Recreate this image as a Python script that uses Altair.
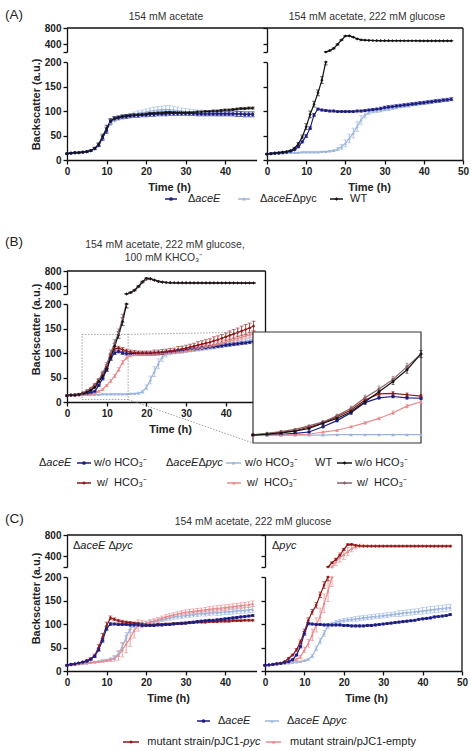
import altair as alt
import pandas as pd

W, H = 471, 751
FONT = "Liberation Sans"
INK = "#222222"
HOURS = list(range(48))

NAVY, SKY, BLACK = "#1d1d82", "#9db5dc", "#141414"
CRIMSON, ROSE, MAUVE = "#8f1616", "#e88a8c", "#8b5f66"

# series key -> (colour, marker)
STYLE = {
    "dAceE": (NAVY, "circle"),
    "dAceE_dPyc": (SKY, "triangle-up"),
    "WT": (BLACK, "diamond"),
    "dAceE_HCO3": (CRIMSON, "diamond"),
    "dAceE_dPyc_HCO3": (ROSE, "triangle-up"),
    "WT_HCO3": (MAUVE, "diamond"),
    "pJC1_pyc": (CRIMSON, "diamond"),
    "pJC1_empty": (ROSE, "triangle-up"),
}
COLOR = alt.Scale(domain=list(STYLE), range=[c for c, _ in STYLE.values()])
SHAPE = alt.Scale(domain=list(STYLE), range=[s for _, s in STYLE.values()])

# ---------------- (A) 154 mM acetate ----------------
a1_wt = [13, 14, 15, 15, 16, 17, 19, 24, 32, 48, 64, 80,
         85, 87, 89, 90, 91, 92, 93, 93, 94, 95, 95, 96,
         96, 97, 97, 97, 97, 97, 97, 97, 97, 98, 98, 99,
         99, 100, 100, 101, 102, 102, 103, 104, 105, 105, 106, 106]
a1_wt_sd = [1, 1, 1, 1, 1, 1, 1, 2, 3, 5, 7, 5,
            3, 2, 2, 2, 2, 2, 2, 2, 2, 2, 2, 2,
            2, 2, 2, 2, 2, 2, 2, 2, 2, 2, 2, 2,
            2, 2, 2, 2, 2, 2, 2, 2, 2, 2, 2, 2]
a1_ae = [13, 14, 15, 15, 16, 17, 19, 23, 30, 45, 60, 78,
         84, 86, 88, 89, 90, 91, 91, 92, 92, 93, 93, 94,
         94, 94, 95, 95, 95, 95, 95, 95, 95, 94, 94, 94,
         94, 94, 94, 94, 94, 94, 94, 94, 94, 93, 93, 93]
a1_ae_sd = [1, 1, 1, 1, 1, 1, 1, 2, 3, 5, 6, 5,
            4, 4, 4, 4, 4, 4, 4, 4, 4, 4, 4, 4,
            4, 4, 4, 4, 4, 4, 4, 4, 4, 4, 4, 4,
            4, 4, 4, 4, 4, 4, 4, 5, 5, 5, 5, 5]
a1_ap = [13, 14, 14, 15, 16, 17, 19, 23, 31, 47, 62, 76,
         83, 86, 88, 89, 91, 93, 95, 97, 98, 100, 101, 102,
         103, 103, 103, 102, 101, 100, 99, 98, 98, 97, 97, 96,
         96, 96, 95, 95, 95, 95, 95, 94, 94, 94, 94, 94]
a1_ap_sd = [1, 1, 1, 1, 1, 1, 1, 2, 3, 5, 6, 6,
            5, 4, 4, 4, 4, 5, 5, 5, 6, 6, 7, 7,
            7, 8, 8, 7, 7, 6, 6, 6, 5, 5, 5, 5,
            5, 5, 5, 5, 5, 5, 5, 5, 5, 5, 5, 5]

# ---------------- (A) 154 mM acetate, 222 mM glucose ----------------
a2_wt = [12, 13, 14, 15, 16, 17, 19, 24, 33, 47, 68, 93,
         114, 137, 163, 200, 235, 290, 390, 500, 600, 605, 570, 530,
         505, 495, 490, 487, 485, 484, 483, 483, 482, 482, 482, 481,
         481, 481, 481, 480, 480, 480, 480, 480, 480, 479, 479, 479]
a2_wt_sd = [1, 1, 1, 1, 1, 1, 1, 2, 3, 4, 6, 7,
            6, 6, 7, 6, 10, 12, 15, 15, 12, 10, 8, 8,
            8, 6, 6, 6, 6, 6, 6, 6, 6, 6, 6, 6,
            6, 6, 6, 6, 6, 6, 6, 6, 6, 6, 6, 6]
a2_ae = [12, 13, 14, 14, 15, 16, 18, 21, 27, 37, 49, 65,
         92, 104, 102, 101, 100, 100, 99, 99, 99, 99, 99, 100,
         100, 101, 102, 103, 104, 105, 107, 108, 109, 110, 111, 112,
         113, 114, 115, 116, 117, 118, 119, 120, 121, 122, 123, 124]
a2_ae_sd = [1, 1, 1, 1, 1, 1, 1, 1, 2, 2, 3, 3,
            3, 2, 2, 2, 2, 2, 2, 2, 2, 2, 2, 2,
            2, 2, 2, 2, 2, 3, 3, 3, 3, 3, 3, 3,
            3, 3, 3, 3, 3, 3, 3, 3, 3, 3, 3, 3]
a2_ap = [12, 13, 13, 14, 14, 15, 15, 15, 15, 16, 16, 16,
         16, 16, 17, 17, 18, 19, 22, 27, 34, 44, 55, 68,
         82, 92, 97, 99, 100, 101, 103, 104, 106, 107, 109, 110,
         111, 113, 114, 115, 116, 117, 119, 120, 121, 122, 123, 125]
a2_ap_sd = [1, 1, 1, 1, 1, 1, 1, 1, 1, 1, 1, 1,
            1, 1, 1, 1, 1, 2, 3, 5, 7, 9, 10, 10,
            9, 6, 4, 3, 3, 3, 3, 3, 3, 3, 3, 3,
            3, 3, 3, 3, 3, 3, 3, 3, 3, 3, 3, 3]

# ---------------- (B) + 100 mM KHCO3 ----------------
b_wt = [13, 14, 14, 15, 17, 20, 24, 30, 42, 53, 68, 91,
        114, 137, 164, 200, 240, 300, 400, 520, 610, 600, 560, 530,
        510, 500, 495, 493, 492, 492, 491, 491, 491, 490, 490, 490,
        490, 490, 490, 489, 489, 489, 489, 488, 488, 488, 488, 488]
b_wt_sd = [1, 1, 1, 1, 1, 1, 2, 2, 3, 4, 5, 6,
           6, 7, 8, 8, 10, 12, 15, 15, 12, 10, 8, 8,
           6, 6, 6, 6, 6, 6, 6, 6, 6, 6, 6, 6,
           6, 6, 6, 6, 6, 6, 6, 6, 6, 6, 6, 6]
b_wth = [13, 14, 15, 15, 19, 23, 28, 36, 45, 59, 76, 100,
         120, 142, 171, 200, 235, 290, 390, 500, 580, 590, 560, 530,
         510, 500, 495, 493, 492, 491, 491, 490, 490, 490, 489, 489,
         489, 489, 488, 488, 488, 488, 487, 487, 487, 487, 487, 487]
b_wth_sd = [1, 1, 1, 1, 1, 2, 2, 2, 3, 4, 5, 6,
            7, 7, 8, 8, 10, 12, 14, 14, 12, 10, 8, 8,
            6, 6, 6, 6, 6, 6, 6, 6, 6, 6, 6, 6,
            6, 6, 6, 6, 6, 6, 6, 6, 6, 6, 6, 6]
b_ae = [13, 14, 14, 15, 16, 17, 19, 22, 34, 48, 66, 89,
        100, 103, 100, 99, 99, 99, 99, 99, 99, 99, 99, 100,
        100, 101, 102, 103, 104, 105, 106, 107, 108, 109, 110, 111,
        112, 113, 114, 115, 116, 117, 118, 119, 120, 121, 122, 124]
b_ae_sd = [1, 1, 1, 1, 1, 1, 1, 2, 2, 3, 3, 3,
           3, 3, 3, 3, 3, 3, 3, 3, 3, 3, 3, 3,
           3, 3, 3, 3, 3, 3, 3, 3, 3, 3, 3, 3,
           3, 3, 3, 3, 3, 3, 3, 3, 3, 3, 3, 3]
b_aeh = [13, 14, 15, 16, 18, 21, 25, 33, 43, 57, 72, 95,
         109, 110, 107, 104, 102, 101, 100, 100, 100, 100, 101, 101,
         102, 103, 104, 105, 107, 108, 110, 112, 114, 116, 118, 120,
         122, 125, 127, 130, 133, 136, 139, 142, 145, 148, 151, 155]
b_aeh_sd = [1, 1, 1, 1, 1, 1, 2, 2, 3, 3, 4, 4,
            4, 4, 4, 4, 4, 4, 4, 4, 4, 4, 5, 5,
            5, 5, 5, 5, 6, 6, 6, 6, 6, 7, 7, 7,
            7, 8, 8, 8, 8, 9, 9, 9, 10, 10, 10, 10]
b_ap = [13, 14, 14, 15, 15, 15, 15, 15, 15, 16, 16, 16,
        16, 16, 16, 16, 17, 17, 18, 21, 30, 45, 62, 78,
        92, 98, 100, 101, 102, 103, 104, 105, 106, 107, 108, 110,
        111, 112, 114, 115, 116, 118, 119, 121, 122, 124, 126, 128]
b_ap_sd = [1, 1, 1, 1, 1, 1, 1, 1, 1, 1, 1, 1,
           1, 1, 1, 1, 1, 1, 2, 3, 5, 8, 10, 10,
           9, 6, 4, 3, 3, 3, 3, 3, 3, 3, 3, 4,
           4, 4, 4, 4, 4, 4, 4, 4, 4, 4, 4, 4]
b_aph = [13, 14, 14, 14, 15, 15, 16, 17, 22, 26, 34, 43,
         53, 66, 81, 91, 95, 97, 98, 98, 98, 98, 99, 99,
         100, 100, 101, 102, 103, 104, 105, 107, 108, 110, 111, 113,
         114, 116, 118, 120, 123, 125, 127, 130, 132, 135, 137, 140]
b_aph_sd = [1, 1, 1, 1, 1, 1, 1, 1, 2, 2, 2, 3,
            3, 4, 4, 4, 3, 3, 3, 3, 3, 3, 3, 3,
            3, 3, 3, 3, 3, 4, 4, 4, 4, 4, 4, 4,
            4, 5, 5, 5, 5, 5, 5, 5, 5, 5, 5, 5]

# ---------------- (C) dAceE dPyc background ----------------
cl_pyc = [12, 14, 15, 17, 19, 22, 26, 33, 50, 72, 96, 113,
          110, 107, 105, 104, 103, 102, 101, 100, 99, 98, 98, 99,
          99, 100, 100, 101, 101, 102, 102, 103, 103, 104, 104, 104,
          105, 105, 105, 106, 106, 106, 107, 107, 107, 108, 108, 108]
cl_pyc_sd = [1, 1, 1, 1, 1, 2, 2, 3, 6, 8, 8, 4,
             3, 3, 3, 2, 2, 2, 2, 2, 2, 2, 2, 2,
             2, 2, 2, 2, 2, 2, 2, 2, 2, 2, 2, 2,
             2, 2, 2, 2, 2, 2, 2, 2, 2, 2, 2, 2]
cl_ae = [12, 14, 15, 17, 19, 21, 25, 31, 45, 65, 90, 100,
         100, 99, 99, 99, 98, 98, 98, 97, 97, 97, 97, 98,
         98, 99, 99, 100, 101, 101, 102, 103, 104, 105, 106, 107,
         108, 108, 109, 110, 111, 112, 113, 114, 115, 116, 117, 118]
cl_ae_sd = [1, 1, 1, 1, 1, 1, 2, 2, 3, 4, 4, 3,
            2, 2, 2, 2, 2, 2, 2, 2, 2, 2, 2, 2,
            2, 2, 2, 2, 2, 2, 2, 2, 2, 2, 2, 2,
            2, 2, 2, 2, 2, 2, 2, 2, 2, 2, 2, 2]
cl_ap = [12, 13, 14, 15, 16, 17, 18, 19, 20, 22, 23, 25,
         28, 37, 52, 72, 90, 98, 100, 100, 101, 103, 105, 107,
         109, 111, 113, 115, 116, 117, 118, 119, 120, 121, 122, 122,
         123, 124, 124, 125, 126, 126, 127, 128, 129, 129, 130, 131]
cl_ap_sd = [1, 1, 1, 1, 1, 1, 1, 1, 1, 2, 2, 2,
            3, 5, 8, 10, 8, 5, 4, 4, 4, 4, 4, 4,
            4, 4, 5, 5, 5, 5, 5, 5, 5, 5, 5, 5,
            5, 5, 6, 6, 6, 6, 6, 6, 6, 6, 6, 6]
cl_emp = [12, 13, 14, 15, 16, 17, 18, 19, 20, 21, 22, 24,
          27, 33, 45, 57, 70, 86, 97, 100, 101, 104, 106, 109,
          112, 115, 117, 119, 121, 123, 125, 126, 127, 128, 129, 130,
          131, 132, 133, 134, 135, 136, 137, 138, 139, 140, 141, 143]
cl_emp_sd = [1, 1, 1, 1, 1, 1, 1, 1, 1, 2, 2, 4,
             6, 10, 15, 18, 18, 16, 12, 8, 5, 5, 5, 5,
             5, 5, 5, 5, 5, 5, 5, 5, 5, 5, 5, 5,
             6, 6, 6, 6, 6, 6, 6, 6, 6, 6, 6, 6]

# ---------------- (C) dPyc background ----------------
cr_pyc = [12, 13, 14, 16, 17, 20, 27, 34, 45, 62, 84, 108,
          126, 140, 162, 183, 200, 280, 340, 420, 530, 620, 625, 605,
          595, 592, 591, 590, 590, 590, 590, 591, 590, 590, 590, 590,
          590, 591, 590, 590, 590, 590, 590, 590, 590, 590, 590, 590]
cr_pyc_sd = [1, 1, 1, 1, 1, 1, 2, 2, 3, 4, 5, 5,
             5, 6, 6, 7, 8, 15, 20, 20, 20, 15, 12, 10,
             10, 10, 10, 10, 10, 10, 10, 10, 10, 10, 10, 10,
             10, 10, 10, 10, 10, 10, 10, 10, 10, 10, 10, 10]
cr_emp = [12, 13, 14, 15, 16, 17, 19, 22, 25, 30, 45, 59,
          77, 98, 116, 144, 170, 200, 300, 380, 430, 490, 545, 580,
          600, 595, 595, 595, 595, 595, 595, 595, 595, 595, 595, 595,
          595, 595, 595, 595, 595, 595, 595, 595, 595, 595, 595, 595]
cr_emp_sd = [1, 1, 1, 1, 1, 1, 1, 2, 2, 3, 6, 8,
             12, 15, 18, 20, 22, 20, 70, 90, 90, 80, 60, 40,
             30, 20, 15, 15, 15, 15, 15, 15, 15, 15, 15, 15,
             15, 15, 15, 15, 15, 15, 15, 15, 15, 15, 15, 15]
cr_ae = [12, 13, 14, 15, 16, 18, 20, 24, 34, 52, 80, 101,
         100, 99, 99, 98, 98, 98, 98, 98, 97, 97, 96, 96,
         96, 96, 97, 97, 98, 99, 100, 101, 102, 103, 104, 105,
         106, 107, 108, 110, 111, 112, 113, 115, 116, 117, 118, 120]
cr_ae_sd = [1, 1, 1, 1, 1, 1, 1, 2, 2, 3, 4, 3,
            2, 2, 2, 2, 2, 2, 2, 2, 2, 2, 2, 2,
            2, 2, 2, 2, 2, 2, 2, 2, 2, 2, 2, 2,
            2, 2, 2, 2, 2, 2, 2, 2, 2, 2, 2, 2]
cr_ap = [12, 13, 14, 15, 16, 16, 17, 18, 19, 20, 22, 25,
         32, 48, 64, 80, 96, 100, 104, 106, 108, 109, 110, 111,
         112, 113, 114, 115, 116, 117, 118, 119, 120, 121, 122, 123,
         124, 125, 126, 127, 128, 129, 130, 131, 132, 133, 134, 135]
cr_ap_sd = [1, 1, 1, 1, 1, 1, 1, 1, 1, 1, 2, 2,
            3, 5, 6, 6, 5, 4, 4, 4, 4, 4, 4, 5,
            5, 5, 5, 5, 5, 5, 5, 5, 5, 5, 6, 6,
            6, 6, 6, 6, 7, 7, 7, 7, 7, 7, 7, 7]

# drawing order within each panel: first entry is drawn first
A1 = [("dAceE_dPyc", a1_ap, a1_ap_sd), ("dAceE", a1_ae, a1_ae_sd), ("WT", a1_wt, a1_wt_sd)]
A2 = [("dAceE_dPyc", a2_ap, a2_ap_sd), ("dAceE", a2_ae, a2_ae_sd), ("WT", a2_wt, a2_wt_sd)]
B = [("dAceE_dPyc", b_ap, b_ap_sd), ("dAceE", b_ae, b_ae_sd),
     ("dAceE_dPyc_HCO3", b_aph, b_aph_sd), ("dAceE_HCO3", b_aeh, b_aeh_sd),
     ("WT_HCO3", b_wth, b_wth_sd), ("WT", b_wt, b_wt_sd)]
CL = [("dAceE_dPyc", cl_ap, cl_ap_sd), ("pJC1_empty", cl_emp, cl_emp_sd),
      ("pJC1_pyc", cl_pyc, cl_pyc_sd), ("dAceE", cl_ae, cl_ae_sd)]
CR = [("dAceE_dPyc", cr_ap, cr_ap_sd), ("pJC1_empty", cr_emp, cr_emp_sd),
      ("pJC1_pyc", cr_pyc, cr_pyc_sd), ("dAceE", cr_ae, cr_ae_sd)]

# ---------------- page geometry (pixels) ----------------
X_LEFT = (67, 256.6)      # 0-48 h
X_RIGHT_A = (267, 463)    # 0-50 h
X_RIGHT_C = (265, 462)
X_B = (67, 265.5)
A_LO, A_UP = (160, 62), (52, 28)
B_LO, B_UP = (402, 304), (294, 271)
C_LO, C_UP = (671, 577), (567, 535)
INSET_T, INSET_V = (3, 15), (-3, 250)
INSET_X, INSET_Y = (253, 421), (443, 332)
ZOOM_T, ZOOM_V = (3.8, 15.4), (5, 138)

ONE = pd.DataFrame({"k": [0]})


def px(v, dom, rng):
    return rng[0] + (v - dom[0]) * (rng[1] - rng[0]) / (dom[1] - dom[0])


def tidy(entries, t_min=0, t_max=47):
    rows = []
    for key, vals, sds in entries:
        for t, v, s in zip(HOURS, vals, sds):
            if t_min <= t <= t_max:
                rows.append({"s": key, "t": t, "v": v, "lo": v - s, "hi": v + s})
    return pd.DataFrame(rows, columns=["s", "t", "v", "lo", "hi"])


def curve_marks(df, xs, ys, xaxis=None, yaxis=None, size=10, cap=4):
    # every mark of a panel carries the same axis definition so that they merge
    col = alt.Color("s:N", scale=COLOR, legend=None)
    x = alt.X("t:Q", scale=xs, axis=xaxis)
    base = alt.Chart(df)
    bars = base.mark_rule(strokeWidth=0.8).encode(
        x=x, y=alt.Y("lo:Q", scale=ys, axis=yaxis), y2="hi:Q", color=col)
    cap_hi = base.mark_tick(orient="horizontal", size=cap, thickness=0.8).encode(
        x=x, y=alt.Y("hi:Q", scale=ys, axis=yaxis), color=col)
    cap_lo = base.mark_tick(orient="horizontal", size=cap, thickness=0.8).encode(
        x=x, y=alt.Y("lo:Q", scale=ys, axis=yaxis), color=col)
    line = base.mark_line(strokeWidth=1.2).encode(
        x=x, y=alt.Y("v:Q", scale=ys, axis=yaxis), color=col)
    pts = base.mark_point(filled=True, size=size, opacity=1).encode(
        x=x, y=alt.Y("v:Q", scale=ys, axis=yaxis), color=col,
        shape=alt.Shape("s:N", scale=SHAPE, legend=None))
    return [bars, cap_hi, cap_lo, line, pts]


def segment(entries, part, xdom, xrng, yrng, labels=True, xticks=None,
            xtitle_x=None, ytitle_y=None, extra=()):
    df = tidy(entries)
    if part == "lower":
        ydom = [0, 200]
        df = df[df["v"] <= 200].copy()
        df["hi"] = df["hi"].clip(upper=200)
        yvals = [0, 50, 100, 150, 200]
    else:
        ydom = [200, 800]
        df = df[df["v"] >= 200].copy()
        df["lo"] = df["lo"].clip(lower=200)
        yvals = [200, 400, 800]
    xs = alt.Scale(domain=list(xdom), range=list(xrng), nice=False, zero=False)
    ys = alt.Scale(domain=ydom, range=list(yrng), nice=False, zero=False)

    ykw = dict(orient="left", offset=-xrng[0], values=yvals, labels=labels, title=None)
    if part == "upper":
        ykw["labelExpr"] = "datum.value == 200 ? '' : datum.label"
    if ytitle_y is not None:
        ykw.update(title="Backscatter (a.u.)", titleY=ytitle_y)
    yaxis = alt.Axis(**ykw)
    xaxis = None
    if xticks is not None:
        xkw = dict(orient="bottom", offset=yrng[0] - H, values=xticks, title="Time (h)",
                   titlePadding=5)
        if xtitle_x is not None:
            xkw["titleX"] = xtitle_x
        xaxis = alt.Axis(**xkw)
    marks = curve_marks(df, xs, ys, xaxis, yaxis)
    marks += [m(xs, ys, xaxis, yaxis) for m in extra]
    return alt.layer(*marks)


def hline(x1, x2, y, color="#111111", width=1.3):
    return alt.Chart(ONE).mark_rule(color=color, strokeWidth=width).encode(
        x=alt.value(x1), x2=alt.value(x2), y=alt.value(y))


def vline(x, y1, y2, color="#111111", width=1.3):
    return alt.Chart(ONE).mark_rule(color=color, strokeWidth=width).encode(
        x=alt.value(x), y=alt.value(y1), y2=alt.value(y2))


def seg_line(x1, y1, x2, y2):
    return alt.Chart(ONE).mark_rule(color="#888888", strokeWidth=0.8, strokeDash=[1.5, 1.5]).encode(
        x=alt.value(x1), y=alt.value(y1), x2=alt.value(x2), y2=alt.value(y2))


def label(x, y, s, size=11, italic=False, bold=False, align="left", color=INK):
    kw = dict(text=s, font=FONT, fontSize=size, align=align, baseline="middle", color=color)
    if italic:
        kw["fontStyle"] = "italic"
    if bold:
        kw["fontWeight"] = "bold"
    return alt.Chart(ONE).mark_text(**kw).encode(x=alt.value(x), y=alt.value(y))


def key(x1, x2, y, series):
    colr, shp = STYLE[series]
    return [
        alt.Chart(ONE).mark_rule(color=colr, strokeWidth=1.5).encode(
            x=alt.value(x1), x2=alt.value(x2), y=alt.value(y)),
        alt.Chart(ONE).mark_point(filled=True, color=colr, shape=shp, size=14, opacity=1).encode(
            x=alt.value((x1 + x2) / 2), y=alt.value(y)),
    ]


def zoom_box(xs, ys, xaxis, yaxis):
    box = pd.DataFrame({"a": [ZOOM_T[0]], "b": [ZOOM_T[1]], "c": [ZOOM_V[0]], "d": [ZOOM_V[1]]})
    return alt.Chart(box).mark_rect(fillOpacity=0, stroke="#888888", strokeWidth=0.8,
                                    strokeDash=[1.5, 1.5]).encode(
        x=alt.X("a:Q", scale=xs, axis=xaxis), x2="b:Q",
        y=alt.Y("c:Q", scale=ys, axis=yaxis), y2="d:Q")


TICKS48 = [0, 10, 20, 30, 40]
TICKS50 = [0, 10, 20, 30, 40, 50]
layers = []

# ---- (A) ----
layers += [
    segment(A1, "upper", (0, 48), X_LEFT, A_UP),
    segment(A1, "lower", (0, 48), X_LEFT, A_LO, xticks=TICKS48, xtitle_x=169, ytitle_y=104),
    segment(A2, "upper", (0, 50), X_RIGHT_A, A_UP, labels=False),
    segment(A2, "lower", (0, 50), X_RIGHT_A, A_LO, labels=False, xticks=TICKS50, xtitle_x=369),
    hline(X_LEFT[0], X_RIGHT_A[1], A_UP[1]),
    vline(X_RIGHT_A[1], A_UP[1], A_LO[0]),
]

# ---- (B) ----
layers += [
    segment(B, "upper", (0, 50), X_B, B_UP),
    segment(B, "lower", (0, 50), X_B, B_LO, xticks=TICKS50, xtitle_x=170, ytitle_y=329,
            extra=[zoom_box]),
    hline(X_B[0], X_B[1], B_UP[1]),
    vline(X_B[1], B_UP[1], B_LO[0]),
]
zx = px(ZOOM_T[1], (0, 50), X_B)
layers += [
    seg_line(zx, px(ZOOM_V[1], (0, 200), B_LO), INSET_X[0], INSET_Y[1]),
    seg_line(zx, px(ZOOM_V[0], (0, 200), B_LO), INSET_X[0], INSET_Y[0]),
]

# inset: early growth phase of (B)
ixs = alt.Scale(domain=list(INSET_T), range=list(INSET_X), nice=False, zero=False)
iys = alt.Scale(domain=list(INSET_V), range=list(INSET_Y), nice=False, zero=False)
inset_frame = pd.DataFrame({"a": [INSET_T[0]], "b": [INSET_T[1]], "c": [INSET_V[0]], "d": [INSET_V[1]]})
inset_box = alt.Chart(inset_frame).mark_rect(fill="white", stroke="#333333", strokeWidth=1.2).encode(
    x=alt.X("a:Q", scale=ixs, axis=None), x2="b:Q",
    y=alt.Y("c:Q", scale=iys, axis=None), y2="d:Q")
layers.append(alt.layer(inset_box, *curve_marks(tidy(B, 3, 15), ixs, iys, size=12, cap=3)))

# ---- (C) ----
layers += [
    segment(CL, "upper", (0, 48), X_LEFT, C_UP),
    segment(CL, "lower", (0, 48), X_LEFT, C_LO, xticks=TICKS48, xtitle_x=168, ytitle_y=598),
    segment(CR, "upper", (0, 50), X_RIGHT_C, C_UP, labels=False),
    segment(CR, "lower", (0, 50), X_RIGHT_C, C_LO, labels=False, xticks=TICKS50, xtitle_x=366),
    hline(X_LEFT[0], X_RIGHT_C[1], C_UP[1]),
    vline(X_RIGHT_C[1], C_UP[1], C_LO[0]),
]

# ---- titles and panel letters ----
SUB = 10.4
layers += [
    label(5, 15, "(A)", size=13.5),
    label(166, 17, "154 mM acetate", size=SUB, align="center", color="#333333"),
    label(367, 17, "154 mM acetate, 222 mM glucose", size=SUB, align="center", color="#333333"),
    label(5, 242, "(B)", size=13.5),
    label(165, 245, "154 mM acetate, 222 mM glucose,", size=SUB, align="center", color="#333333"),
    label(164, 258, "100 mM KHCO\u2083\u207b", size=SUB, align="center", color="#333333"),
    label(5, 519, "(C)", size=13.5),
    label(253, 522, "154 mM acetate, 222 mM glucose", size=SUB, align="center", color="#333333"),
    label(73, 546, "\u0394", size=11), label(80.3, 546, "aceE", size=11, italic=True),
    label(108.4, 546, "\u0394", size=11), label(115.7, 546, "pyc", size=11, italic=True),
    label(272, 546, "\u0394", size=11), label(279.3, 546, "pyc", size=11, italic=True),
]

# ---- legend (A) ----
LA = 199
layers += key(165, 177, LA, "dAceE") + key(238, 250, LA, "dAceE_dPyc") + key(330, 343, LA, "WT")
layers += [
    label(188, LA, "\u0394"), label(195.3, LA, "aceE", italic=True),
    label(260, LA, "\u0394"), label(267.3, LA, "aceE", italic=True),
    label(292.4, LA, "\u0394pyc"),
    label(350, LA, "WT"),
]

# ---- legend (B) ----
LB1, LB2 = 463, 483
WO, WI = "w/o HCO\u2083\u207b", "w/\u00a0 HCO\u2083\u207b"
layers += key(77, 91, LB1, "dAceE") + key(226, 241, LB1, "dAceE_dPyc") + key(337, 352, LB1, "WT")
layers += key(77, 91, LB2, "dAceE_HCO3") + key(227, 241, LB2, "dAceE_dPyc_HCO3") + key(337, 352, LB2, "WT_HCO3")
layers += [
    label(39, LB1, "\u0394"), label(46.3, LB1, "aceE", italic=True), label(94, LB1, WO),
    label(166, LB1, "\u0394"), label(173.3, LB1, "aceE", italic=True),
    label(198.4, LB1, "\u0394"), label(205.7, LB1, "pyc", italic=True), label(245, LB1, WO),
    label(315, LB1, "WT"), label(355, LB1, WO),
    label(97, LB2, WI), label(247, LB2, WI), label(357, LB2, WI),
]

# ---- legend (C) ----
LC1, LC2 = 721, 742
layers += key(197, 210, LC1, "dAceE") + key(265, 279, LC1, "dAceE_dPyc")
layers += key(123, 139, LC2, "pJC1_pyc") + key(266, 281, LC2, "pJC1_empty")
layers += [
    label(218, LC1, "\u0394"), label(225.3, LC1, "aceE", italic=True),
    label(287, LC1, "\u0394"), label(294.3, LC1, "aceE", italic=True),
    label(322.4, LC1, "\u0394"), label(329.7, LC1, "pyc", italic=True),
    label(243.3, LC2, "mutant strain/pJC1-", align="right"),
    label(243.3, LC2, "pyc", italic=True),
    label(290, LC2, "mutant strain/pJC1-empty"),
]

chart = (
    alt.layer(*layers)
    .resolve_scale(x="independent", y="independent")
    .properties(width=W, height=H, padding=0, autosize=alt.AutoSizeParams(type="none"),
                background="white")
    .configure_view(strokeWidth=0)
    .configure_axis(
        grid=False, domainColor="#111111", domainWidth=1.3, tickColor="#111111",
        tickWidth=1.3, tickSize=4, labelFont=FONT, labelFontSize=10, labelFontWeight="bold",
        labelColor=INK, labelPadding=2, labelFlush=False, titleFont=FONT, titleFontSize=11,
        titleFontWeight="bold", titleColor=INK, titlePadding=3,
    )
)

chart.save("out.html", embed_options={"renderer": "svg", "actions": False})
